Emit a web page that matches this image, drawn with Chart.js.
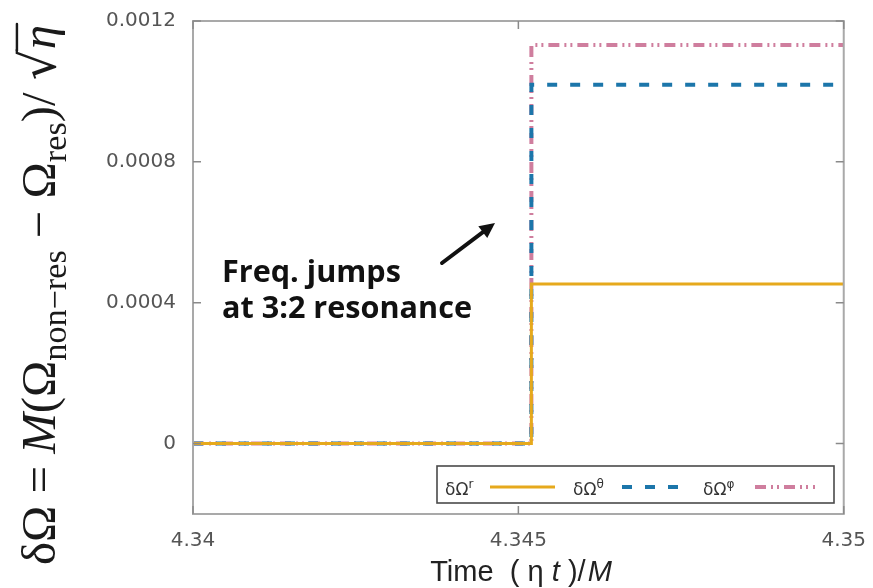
<!DOCTYPE html>
<html>
<head>
<meta charset="utf-8">
<script src="https://cdn.jsdelivr.net/npm/chart.js@4/dist/chart.umd.min.js"></script>
<style>
  html, body { margin: 0; padding: 0; background: #ffffff; }
  #c { display: block; }
</style>
</head>
<body>
<canvas id="c" width="873" height="588"></canvas>
<script>
// ---------------- data ----------------
const times        = [4.34, 4.3452, 4.35];
const dOmegaR      = [0, 0.000453, 0.000453];
const dOmegaTheta  = [0, 0.001019, 0.001019];
const dOmegaPhi    = [0, 0.001132, 0.001132];
const seriesSup    = ['r', 'θ', 'φ'];
const xTicks       = [4.34, 4.345, 4.35];
const xTickLabels  = ['4.34', '4.345', '4.35'];
const yTicks       = [0, 0.0004, 0.0008, 0.0012];
const yTickLabels  = ['0', '0.0004', '0.0008', '0.0012'];
const annotationLines = ['Freq. jumps', 'at 3:2 resonance'];

// ---------------- styles ----------------
const COL_R = '#e6a91c', COL_T = '#1c76aa', COL_P = '#cf7e9e';

function pts(arr) { return times.map((t, i) => ({ x: t, y: arr[i] })); }

const datasets = [
  { data: pts(dOmegaR), borderColor: COL_R, borderWidth: 3, borderDash: [] },
  { data: pts(dOmegaTheta), borderColor: COL_T, borderWidth: 4, borderDash: [10, 13] },
  { data: pts(dOmegaPhi), borderColor: COL_P, borderWidth: 4, borderDash: [11, 5, 2, 4, 2, 5] }
].map(d => Object.assign(d, { stepped: true, pointRadius: 0, fill: false, tension: 0, borderCapStyle: 'butt' }));

function drawSegs(ctx, segs, x0, y0, measureOnly) {
  let x = x0;
  for (const s of segs) {
    ctx.font = s.font;
    const w = ctx.measureText(s.t).width;
    if (!measureOnly) {
      ctx.fillText(s.t, x, y0 + (s.dy || 0));
      if (s.over) {
        ctx.save();
        ctx.lineWidth = s.overW;
        ctx.beginPath();
        ctx.moveTo(x - (s.overPre || 0), y0 + s.over);
        ctx.lineTo(x + w + 1, y0 + s.over);
        ctx.stroke();
        ctx.restore();
      }
    }
    x += w + (s.after || 0);
  }
  return x - x0;
}

const decor = {
  id: 'decor',
  afterDatasetsDraw(chart) {
    const ctx = chart.ctx;
    const a = chart.chartArea;
    const xs = chart.scales.x, ys = chart.scales.y;
    ctx.save();
    ctx.strokeStyle = '#a9a9a9';
    ctx.lineWidth = 2;
    ctx.strokeRect(a.left, a.top, a.right - a.left, a.bottom - a.top);
    ctx.lineWidth = 1.5;
    ctx.strokeStyle = '#8a8a8a';
    ctx.beginPath();
    for (const v of xTicks) {
      const px = xs.getPixelForValue(v);
      ctx.moveTo(px, a.bottom); ctx.lineTo(px, a.bottom - 8);
      ctx.moveTo(px, a.top); ctx.lineTo(px, a.top + 8);
    }
    for (const v of yTicks) {
      const py = ys.getPixelForValue(v);
      ctx.moveTo(a.left, py); ctx.lineTo(a.left + 8, py);
      ctx.moveTo(a.right, py); ctx.lineTo(a.right - 8, py);
    }
    ctx.stroke();

    // legend
    const lx0 = 437, ly0 = 466, lx1 = 834, ly1 = 503;
    ctx.fillStyle = '#ffffff';
    ctx.fillRect(lx0, ly0, lx1 - lx0, ly1 - ly0);
    ctx.strokeStyle = '#4a4a4a';
    ctx.lineWidth = 1.6;
    ctx.strokeRect(lx0, ly0, lx1 - lx0, ly1 - ly0);
    const textX = [445, 573, 703];
    const sampX = [[490, 555], [622, 680], [755, 815]];
    const ly = 487;
    datasets.forEach((d, i) => {
      ctx.fillStyle = '#333333';
      ctx.textBaseline = 'alphabetic';
      ctx.textAlign = 'left';
      drawSegs(ctx, [
        { t: 'δΩ', font: '17px "DejaVu Sans"' },
        { t: seriesSup[i], font: '12px "DejaVu Sans"', dy: -7 }
      ], textX[i], 495);
      ctx.strokeStyle = d.borderColor;
      ctx.lineWidth = d.borderWidth;
      ctx.setLineDash(d.borderDash);
      ctx.beginPath();
      ctx.moveTo(sampX[i][0], ly);
      ctx.lineTo(sampX[i][1], ly);
      ctx.stroke();
      ctx.setLineDash([]);
    });

    // annotation text
    ctx.fillStyle = '#111111';
    ctx.textAlign = 'left';
    ctx.textBaseline = 'alphabetic';
    let fs = 24;
    ctx.font = 'bold ' + fs + 'px "Open Sans"';
    const w2 = ctx.measureText(annotationLines[1]).width;
    fs = fs * 250 / w2;
    ctx.font = 'bold ' + fs.toFixed(2) + 'px "Open Sans"';
    ctx.fillText(annotationLines[0], 222, 282);
    ctx.fillText(annotationLines[1], 222, 318);

    // arrow
    const ax0 = 442, ay0 = 263, ax1 = 495, ay1 = 223;
    const ang = Math.atan2(ay1 - ay0, ax1 - ax0);
    ctx.strokeStyle = '#111111';
    ctx.lineWidth = 4;
    ctx.lineCap = 'round';
    ctx.beginPath();
    ctx.moveTo(ax0, ay0);
    ctx.lineTo(ax1 - 6 * Math.cos(ang), ay1 - 6 * Math.sin(ang));
    ctx.stroke();
    ctx.fillStyle = '#111111';
    ctx.beginPath();
    ctx.moveTo(ax1, ay1);
    ctx.lineTo(ax1 - 17 * Math.cos(ang - 0.45), ay1 - 17 * Math.sin(ang - 0.45));
    ctx.lineTo(ax1 - 17 * Math.cos(ang + 0.45), ay1 - 17 * Math.sin(ang + 0.45));
    ctx.closePath();
    ctx.fill();

    // x axis title
    ctx.fillStyle = '#222222';
    const xs0 = 26;
    const fam = '"Liberation Sans Narrow", "Liberation Sans"';
    const xsegs = (f) => [
      { t: 'Time  ( ', font: f + 'px ' + fam },
      { t: 'η ', font: f + 'px ' + fam },
      { t: 't', font: 'italic ' + f + 'px ' + fam },
      { t: ' )', font: f + 'px ' + fam },
      { t: '/', font: f + 'px ' + fam, after: 2 },
      { t: 'M', font: 'italic ' + f + 'px ' + fam }
    ];
    let wX = drawSegs(ctx, xsegs(xs0), 0, 0, true);
    const fX = xs0 * 182 / wX;
    wX = drawSegs(ctx, xsegs(fX), 0, 0, true);
    drawSegs(ctx, xsegs(fX), 521 - wX / 2, 581);

    // y axis title
    const ysegs = (f) => [
      { t: 'δΩ = ', font: f + 'px "Liberation Serif"' },
      { t: 'M', font: 'italic ' + f + 'px "Liberation Serif"' },
      { t: '(Ω', font: f + 'px "Liberation Serif"' },
      { t: 'non−res', font: (f * 0.7) + 'px "Liberation Serif"', dy: f * 0.22 },
      { t: ' − Ω', font: f + 'px "Liberation Serif"' },
      { t: 'res', font: (f * 0.7) + 'px "Liberation Serif"', dy: f * 0.22 },
      { t: ')/ ', font: f + 'px "Liberation Serif"' },
      { t: '√', font: f + 'px "DejaVu Serif"' },
      { t: 'η', font: 'italic ' + f + 'px "Liberation Serif"', over: -f * 0.78, overW: f * 0.05, overPre: 1 }
    ];
    let f0 = 36;
    let wY = drawSegs(ctx, ysegs(f0), 0, 0, true);
    const fY = f0 * 540 / wY;
    wY = drawSegs(ctx, ysegs(fY), 0, 0, true);
    ctx.save();
    ctx.translate(55, 295);
    ctx.rotate(-Math.PI / 2);
    ctx.fillStyle = '#1a1a1a';
    ctx.strokeStyle = '#1a1a1a';
    drawSegs(ctx, ysegs(fY), -wY / 2, 0);
    ctx.restore();

    ctx.restore();
  }
};

new Chart(document.getElementById('c'), {
  type: 'line',
  data: { datasets },
  options: {
    responsive: false,
    devicePixelRatio: 1,
    animation: false,
    layout: { padding: { left: 0, top: 7, right: 22, bottom: 0 } },
    plugins: { legend: { display: false }, tooltip: { enabled: false } },
    scales: {
      x: {
        type: 'linear',
        min: 4.34, max: 4.35,
        afterBuildTicks: s => { s.ticks = xTicks.map(v => ({ value: v })); },
        afterFit: s => { s.height = 74; },
        grid: { display: false },
        border: { display: false },
        ticks: {
          callback: (v, i) => xTickLabels[i],
          font: { family: 'DejaVu Sans', size: 20 },
          color: '#555555',
          padding: 7,
          maxRotation: 0,
          autoSkip: false
        }
      },
      y: {
        type: 'linear',
        min: -0.0002, max: 0.0012,
        afterBuildTicks: s => { s.ticks = yTicks.map(v => ({ value: v })); },
        afterFit: s => { s.width = 193; },
        grid: { display: false },
        border: { display: false },
        ticks: {
          callback: (v, i) => yTickLabels[i],
          font: { family: 'DejaVu Sans', size: 20 },
          color: '#555555',
          padding: 9,
          autoSkip: false
        }
      }
    }
  },
  plugins: [decor]
});
</script>
</body>
</html>
